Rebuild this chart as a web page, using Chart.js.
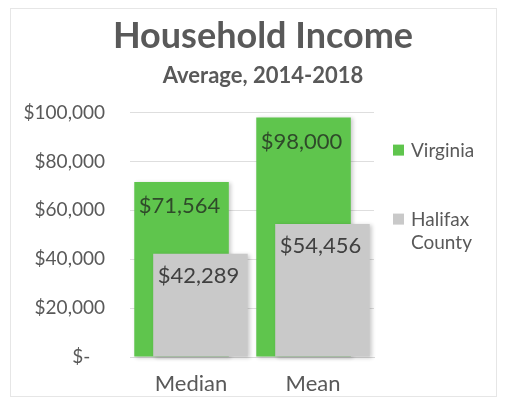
<!DOCTYPE html>
<html>
<head>
<meta charset="utf-8">
<script src="https://cdn.jsdelivr.net/npm/chart.js@4.4.1/dist/chart.umd.min.js"></script>
<style>
  html, body { margin: 0; padding: 0; background: #ffffff; }
  #wrap { position: relative; width: 509px; height: 402px; }
  #frame { position: absolute; left: 10px; top: 8px; width: 487px; height: 389px; border: 1px solid #e6e6e6; box-sizing: border-box; }
  #householdChart { position: absolute; left: 0; top: 0; }
</style>
</head>
<body>
<div id="wrap">
  <div id="frame"></div>
  <canvas id="householdChart" width="509" height="402"></canvas>
</div>
<script>
var categories = ['Median', 'Mean'];
var virginiaIncome = [71564, 98000];
var halifaxIncome = [42289, 54456];
var seriesLabels = ['Virginia', ['Halifax', 'County']];
var yTicks = [0, 20000, 40000, 60000, 80000, 100000];

var GREEN = '#5fc54d';
var GRAY = '#c9c9c9';
var TEXT = '#595959';
var FONT = 'Lato';

function money(v) {
    if (v === 0) return '$-   ';
    return '$' + v.toLocaleString('en-US');
}

// chart.js paints the first dataset on top, excel paints the county bar
// in front, so draw the bars ourselves in dataset order, then the values
var barsInFront = {
    id: 'barsInFront',
    beforeDatasetsDraw: function(chart) {
        var ctx = chart.ctx;
        chart.data.datasets.forEach(function(ds, i) {
            ctx.save();
            ctx.shadowColor = 'rgba(0,0,0,0.2)';
            ctx.shadowBlur = 4;
            ctx.shadowOffsetX = 2;
            ctx.shadowOffsetY = 1;
            chart.getDatasetMeta(i).controller.draw();
            ctx.restore();
        });

        ctx.save();
        ctx.font = '22px ' + FONT;
        ctx.textAlign = 'center';
        ctx.textBaseline = 'middle';
        chart.data.datasets.forEach(function(ds, i) {
            var meta = chart.getDatasetMeta(i);
            ctx.fillStyle = i === 0 ? '#2f4a2a' : '#404040';
            meta.data.forEach(function(bar, j) {
                ctx.fillText(money(ds.data[j]), bar.x - 2, bar.y + (i === 0 ? 24 : 22));
            });
        });
        ctx.restore();
        return false;
    }
};

// legend at the right, second entry wraps on two lines
var sideLegend = {
    id: 'sideLegend',
    afterDraw: function(chart) {
        var ctx = chart.ctx;
        var area = chart.chartArea;
        var x = area.right + 19;
        var rows = [area.top + 38, area.top + 107];
        ctx.save();
        ctx.font = '19px ' + FONT;
        ctx.textBaseline = 'middle';
        ctx.textAlign = 'left';
        chart.data.datasets.forEach(function(ds, i) {
            var lines = [].concat(ds.label);
            ctx.fillStyle = ds.backgroundColor;
            ctx.fillRect(x, rows[i] - 6, 11, 11);
            ctx.fillStyle = TEXT;
            lines.forEach(function(t, k) {
                ctx.fillText(t, x + 18, rows[i] + k * 23);
            });
        });
        ctx.restore();
    }
};

var ctx = document.getElementById('householdChart').getContext('2d');
var householdChart = new Chart(ctx, {
    type: 'bar',
    data: {
        labels: categories,
        datasets: [{
            label: seriesLabels[0],
            data: virginiaIncome,
            backgroundColor: GREEN,
            categoryPercentage: 0.31,
            barPercentage: 5.0
        }, {
            label: seriesLabels[1],
            data: halifaxIncome,
            backgroundColor: GRAY,
            categoryPercentage: 0.31,
            barPercentage: 5.0
        }]
    },
    options: {
        responsive: false,
        animation: false,
        layout: {
            padding: { left: 17, right: 0, top: 0, bottom: 5 }
        },
        plugins: {
            legend: { display: false },
            tooltip: { enabled: false },
            title: {
                display: true,
                text: 'Household Income',
                color: TEXT,
                font: { family: FONT, size: 36, weight: 'bold' },
                padding: { top: 15, bottom: 0 }
            },
            subtitle: {
                display: true,
                text: 'Average, 2014-2018',
                color: TEXT,
                font: { family: FONT, size: 22, weight: 'bold' },
                padding: { top: 5, bottom: 23 }
            }
        },
        scales: {
            x: {
                grid: { display: false, drawTicks: false },
                border: { display: true, color: '#d9d9d9' },
                afterFit: function(scale) {
                    scale.height = 40;
                },
                ticks: {
                    color: TEXT,
                    padding: 14,
                    font: { family: FONT, size: 22 }
                }
            },
            y: {
                min: 0,
                max: 100000,
                afterBuildTicks: function(scale) {
                    scale.ticks = yTicks.map(function(v) { return { value: v }; });
                },
                afterFit: function(scale) {
                    scale.width = 113;
                },
                grid: { color: '#dedede', drawTicks: false },
                border: { display: false },
                ticks: {
                    color: TEXT,
                    padding: 25,
                    font: { family: FONT, size: 19 },
                    callback: function(v) { return money(v); }
                }
            },
            // empty right axis, only keeps room for the legend
            legendRoom: {
                type: 'linear',
                position: 'right',
                grid: { display: false, drawTicks: false },
                border: { display: false },
                ticks: { display: false },
                afterFit: function(scale) {
                    scale.width = 135;
                }
            }
        }
    },
    plugins: [barsInFront, sideLegend]
});
</script>
</body>
</html>
